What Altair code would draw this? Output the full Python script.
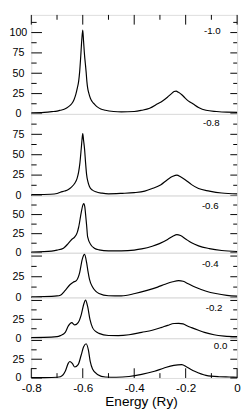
import altair as alt
import pandas as pd

FONT = "Liberation Sans"

panel_labels = ["-1.0", "-0.8", "-0.6", "-0.4", "-0.2", "0.0"]

# Panel 1 (-1.0)
x1 = [-0.80, -0.75, -0.72, -0.70, -0.687, -0.67, -0.655, -0.643, -0.634, -0.627, -0.621, -0.616,
      -0.612, -0.608, -0.604, -0.600, -0.597, -0.593, -0.590, -0.587, -0.584, -0.581, -0.576,
      -0.570, -0.563, -0.556, -0.545, -0.53, -0.512, -0.48, -0.45, -0.40, -0.371, -0.34, -0.309,
      -0.29, -0.271, -0.255, -0.245, -0.237, -0.228, -0.215, -0.202, -0.19, -0.172, -0.15, -0.121,
      -0.08, -0.04, 0.0]
y1 = [1.5, 2.0, 2.8, 3.5, 4.5, 6.0, 9.0, 12.5, 17.5, 24, 32, 40,
      52, 70, 90, 103, 90, 72, 62, 52, 40, 32, 25,
      19, 15, 12.5, 9, 6, 4.5, 3, 2.5, 3, 4.5, 7, 12.5,
      16, 20.5, 25, 27.5, 28, 26.5, 23.5, 19.5, 16, 12.5, 8, 4.5,
      3, 2.2, 2]

# Panel 2 (-0.8)
x2 = [-0.80, -0.76, -0.725, -0.70, -0.687, -0.67, -0.656, -0.645, -0.631, -0.622, -0.616, -0.611,
      -0.606, -0.603, -0.600, -0.597, -0.593, -0.589, -0.585, -0.580, -0.574, -0.562, -0.549,
      -0.525, -0.50, -0.447, -0.40, -0.359, -0.33, -0.296, -0.271, -0.25, -0.234, -0.22, -0.202,
      -0.177, -0.15, -0.108, -0.06, 0.0]
y2 = [1.0, 1.2, 1.5, 2.5, 4, 5.5, 7.4, 10, 15, 21, 29, 40,
      57, 68, 76, 68, 57, 40, 25.6, 17, 11, 6.5, 4.5,
      2.8, 2, 2.6, 3.5, 5.4, 8.5, 13.3, 19.4, 23.5, 25, 23, 19.4,
      13.3, 8.5, 5.4, 3, 2]

# Panel 3 (-0.6)
x3 = [-0.80, -0.75, -0.70, -0.675, -0.656, -0.643, -0.631, -0.622, -0.616, -0.606, -0.600, -0.596,
      -0.592, -0.589, -0.585, -0.581, -0.568, -0.555, -0.537, -0.50, -0.45, -0.40, -0.371, -0.33,
      -0.302, -0.27, -0.25, -0.234, -0.22, -0.20, -0.177, -0.15, -0.108, -0.06, 0.0]
y3 = [1.0, 1.5, 3.5, 6, 12.3, 17.4, 20.7, 26, 33.4, 52.5, 62, 64.4,
      60, 50.4, 36, 20.7, 10.2, 6, 3.8, 2.5, 2.5, 3.5, 5, 8.5,
      12, 17.5, 21.5, 23.7, 22.5, 18, 13, 9, 5.5, 3, 1.7]

# Panel 4 (-0.4)
x4 = [-0.80, -0.75, -0.70, -0.687, -0.668, -0.650, -0.637, -0.625, -0.612, -0.602, -0.593, -0.585,
      -0.580, -0.574, -0.562, -0.550, -0.537, -0.50, -0.45, -0.397, -0.35, -0.309, -0.28, -0.25,
      -0.227, -0.21, -0.19, -0.164, -0.12, -0.083, -0.04, 0.0]
y4 = [0.8, 1.0, 1.8, 2.7, 8.6, 15.3, 18.4, 20.3, 30, 46, 52, 42,
      32, 22, 12.5, 7.5, 4.7, 2, 1.8, 4.7, 8.5, 12.5, 16, 19,
      20.3, 19.5, 16.5, 12.5, 7.5, 4.7, 2.5, 1.5]

# Panel 5 (-0.2)
x5 = [-0.80, -0.75, -0.70, -0.687, -0.668, -0.656, -0.643, -0.631, -0.618, -0.606, -0.597, -0.589,
      -0.581, -0.572, -0.562, -0.55, -0.537, -0.50, -0.462, -0.42, -0.371, -0.33, -0.296, -0.27,
      -0.245, -0.227, -0.21, -0.195, -0.177, -0.15, -0.127, -0.09, -0.05, 0.0]
y5 = [0.8, 1.0, 2.0, 3.4, 7.7, 16.3, 20.6, 17.6, 20.6, 31, 44, 50.5,
      42, 24.8, 14, 9, 6.4, 3.6, 3.4, 4.5, 7.7, 10.5, 14, 17,
      19.5, 19.7, 19, 16.5, 14, 10.5, 7.7, 4.5, 2.8, 2]

# Panel 6 (0.0)
x6 = [-0.80, -0.75, -0.70, -0.687, -0.668, -0.656, -0.650, -0.640, -0.631, -0.618, -0.606, -0.597,
      -0.587, -0.578, -0.571, -0.562, -0.543, -0.512, -0.47, -0.42, -0.371, -0.321, -0.284, -0.246,
      -0.215, -0.196, -0.165, -0.121, -0.071, -0.03, 0.0]
y6 = [0.5, 0.6, 1.0, 1.7, 9, 19.8, 22, 19, 14.6, 17.7, 30.6, 41.3,
      45.6, 37, 22, 12, 4.8, 1.3, 1.0, 2.0, 4.8, 9, 13.3, 16.8,
      17.7, 14.6, 9, 3.5, 1.7, 1.3, 1.0]

xs = [x1, x2, x3, x4, x5, x6]
ys = [y1, y2, y3, y4, y5, y6]

y_tops = [121.7, 100, 75, 54, 54, 53]
heights = [102, 84, 59, 46, 42, 41]
y_label_values = [[0, 25, 50, 75, 100], [0, 25, 50, 75], [0, 25, 50], [0, 25], [0, 25], [0, 25]]
label_x = [-0.064, -0.068, -0.072, -0.072, -0.057, -0.038]
label_y = [101.4, 89, 61, 40.5, 40.5, 42.6]

x_label_values = [-0.8, -0.6, -0.4, -0.2, 0.0]
x_major = [-0.8, -0.6, -0.4, -0.2, 0.0]
x_minor = [-0.7, -0.5, -0.3, -0.1]

W = 212
XDOM = [-0.8, 0.0]


def panel(i):
    top = y_tops[i]
    H = heights[i]
    xsc = alt.Scale(domain=XDOM, nice=False, zero=False)
    ysc = alt.Scale(domain=[0, top], nice=False, zero=False)
    df = pd.DataFrame({"x": xs[i], "y": ys[i]})
    is_bottom = i == len(xs) - 1

    if is_bottom:
        xaxis = alt.Axis(values=x_label_values, ticks=False, domain=False, grid=False,
                         labelExpr="datum.value == 0 ? '0' : '-' + format(abs(datum.value), '.1f')",
                         labelFontSize=12, labelPadding=5, labelFont=FONT, labelColor="black",
                         title="Energy (Ry)", titleFontSize=14, titleFont=FONT,
                         titleFontWeight="normal", titleColor="black", titlePadding=1,
                         titleX=113, titleAlign="center", labelFlush=False)
    else:
        xaxis = None

    yaxis = alt.Axis(values=y_label_values[i], ticks=False, domain=False, grid=False,
                     labelAlign="center", labelPadding=13.8, labelFontSize=11, labelFont=FONT,
                     labelColor="black", title=None, format="d", labelFlush=False,
                     labelOverlap=False)

    line = alt.Chart(df).mark_line(color="black", strokeWidth=1.2, interpolate="monotone").encode(
        x=alt.X("x:Q", scale=xsc, axis=xaxis),
        y=alt.Y("y:Q", scale=ysc, axis=yaxis),
    )

    majors = [v for v in range(0, int(top), 25)]
    minors = [v + 12.5 for v in majors if v + 12.5 < top]
    dmaj = pd.DataFrame({"v": majors})
    dmin = pd.DataFrame({"v": minors})

    def yrule(d, x0, x1_):
        return alt.Chart(d).mark_rule(color="black", strokeWidth=1).encode(
            y=alt.Y("v:Q", scale=ysc, axis=yaxis),
            x=alt.value(x0), x2=alt.value(x1_),
        )

    layers = [
        line,
        yrule(dmaj, 0, 11),
        yrule(dmin, 0, 5.5),
        yrule(dmaj, W - 7, W),
        yrule(dmin, W - 4, W),
    ]

    def xrule(vals, y0, y1_):
        return alt.Chart(pd.DataFrame({"v": vals})).mark_rule(color="black", strokeWidth=1).encode(
            x=alt.X("v:Q", scale=xsc, axis=xaxis),
            y=alt.value(y0), y2=alt.value(y1_),
        )

    if i == 0:
        layers += [xrule(x_major, 0, 10), xrule(x_minor, 0, 5)]
    if is_bottom:
        layers += [xrule(x_major, H - 10, H), xrule(x_minor, H - 5, H)]

    lab = pd.DataFrame({"x": [label_x[i]], "y": [label_y[i]], "t": [panel_labels[i]]})
    text = alt.Chart(lab).mark_text(align="right", baseline="middle", fontSize=10,
                                    font=FONT, color="black").encode(
        x=alt.X("x:Q", scale=xsc, axis=xaxis),
        y=alt.Y("y:Q", scale=ysc, axis=yaxis),
        text="t:N",
    )
    layers.append(text)

    return alt.layer(*layers).properties(width=W, height=H)


chart = alt.vconcat(*[panel(i) for i in range(6)], spacing=0, bounds="flush").resolve_scale(
    x="independent", y="independent"
).properties(padding=0).configure_view(stroke="black", strokeWidth=1).configure(
    font=FONT
)

chart.save("out.html", embed_options={"renderer": "svg", "actions": False})
